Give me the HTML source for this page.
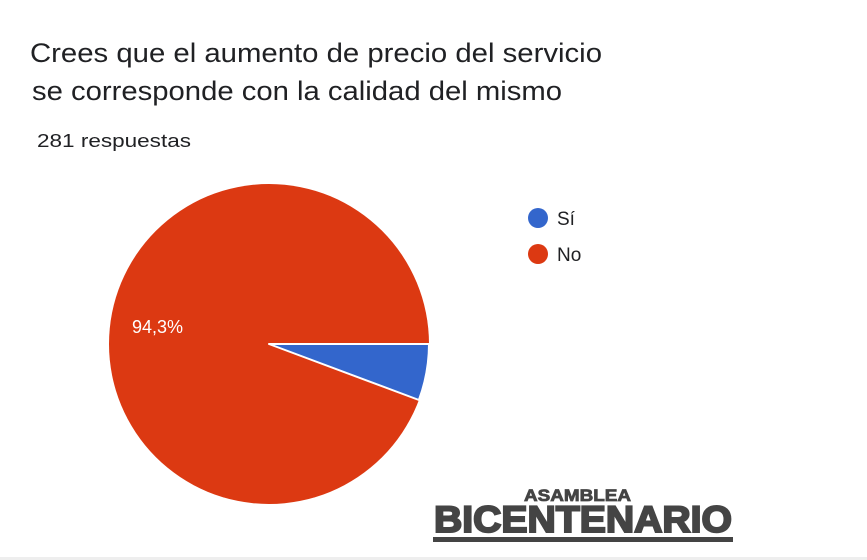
<!DOCTYPE html>
<html><head><meta charset="utf-8"><style>
html,body{margin:0;padding:0;background:#fff;}
svg{display:block;}
</style></head><body>
<svg width="867" height="560" viewBox="0 0 867 560" xmlns="http://www.w3.org/2000/svg" font-family="Liberation Sans, Arial, sans-serif">
<rect width="867" height="560" fill="#fff"/>
<text x="30" y="62" font-size="27" fill="#202124" textLength="572" lengthAdjust="spacingAndGlyphs">Crees que el aumento de precio del servicio</text>
<text x="32" y="100" font-size="27" fill="#202124" textLength="530" lengthAdjust="spacingAndGlyphs">se corresponde con la calidad del mismo</text>
<text x="37" y="147" font-size="18" fill="#202124" textLength="154" lengthAdjust="spacingAndGlyphs">281 respuestas</text>
<circle cx="269" cy="344" r="160" fill="#dc3912"/>
<path d="M269,344 L429,344 A160,160 0 0 1 418.9,400 Z" fill="#3366cc" stroke="#fff" stroke-width="2" stroke-linejoin="round"/>
<text x="132" y="333" font-size="18" fill="#fff">94,3%</text>
<circle cx="538" cy="218" r="10" fill="#3366cc"/>
<text x="557" y="225" font-size="19" fill="#202124">Sí</text>
<circle cx="538" cy="254" r="10" fill="#dc3912"/>
<text x="557" y="261" font-size="19" fill="#202124">No</text>
<text x="524" y="501" font-size="17" font-weight="bold" fill="#444" stroke="#444" stroke-width="0.8" textLength="107" lengthAdjust="spacingAndGlyphs">ASAMBLEA</text>
<text x="434" y="532" font-size="37" font-weight="bold" fill="#444" stroke="#444" stroke-width="2" textLength="298" lengthAdjust="spacingAndGlyphs">BICENTENARIO</text>
<rect x="433" y="537" width="300" height="5" fill="#444"/>
<rect x="0" y="557" width="867" height="3" fill="#eee"/>
</svg>
</body></html>
